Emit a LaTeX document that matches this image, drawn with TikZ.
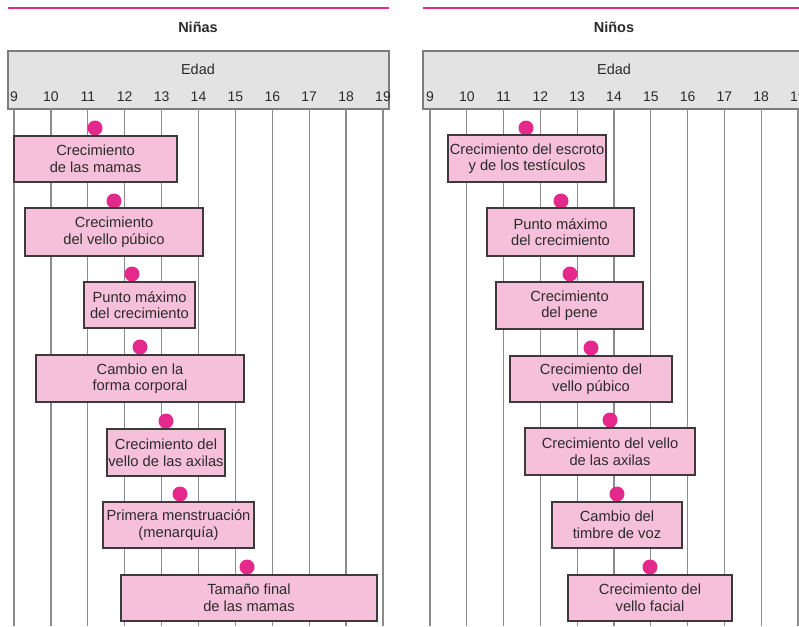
\documentclass[tikz,border=0pt]{standalone}
\usepackage{fontspec}
\setmainfont{Liberation Sans}
\usepackage{xcolor}
\usepackage{tikz}
\definecolor{chartMagenta}{HTML}{E4288C}
\definecolor{chartPink}{HTML}{F6BFDA}
\definecolor{chartBorder}{HTML}{3E3A3C}
\definecolor{chartGrid}{HTML}{8C8C8C}
\definecolor{chartHead}{HTML}{E3E3E3}
\definecolor{chartHeadLine}{HTML}{7C7C7C}
\definecolor{chartText}{HTML}{2B2B2B}
\usetikzlibrary{positioning}

\begin{document}
\begin{tikzpicture}[
  x=1pt, y=-1pt,
  font=\fontsize{14.7}{16.6}\selectfont, text=chartText,
  stage/.style={draw=chartBorder, line width=1.4pt, fill=chartPink, minimum height=46pt, inner sep=0pt, align=center},
  peak/.style={circle, fill=chartMagenta, minimum size=15pt, inner sep=0pt},
  headbox/.style={draw=chartHeadLine, line width=1.4pt, fill=chartHead},
  gridline/.style={chartGrid, line width=1.3pt},
  topline/.style={chartMagenta, line width=1.5pt},
  panel/.style={font=\fontsize{14.5}{16}\selectfont\bfseries},
  agelbl/.style={font=\fontsize{14.5}{16}\selectfont},
  tick/.style={font=\fontsize{14}{16}\selectfont}
]
\useasboundingbox (0,0) rectangle (799,626);

% Headers
\draw[topline] (8,8) -- (389,8);
\draw[topline] (423,8) -- (805,8);
\node[panel] (girls) at (198,27) {Niñas};
\node[panel] (boys) at (614,27) {Niños};
\draw[headbox] (8,51) rectangle (389,109);
\draw[headbox] (423,51) rectangle (810,109);
\node[agelbl] (ageL) at (198,69) {Edad};
\node[agelbl] (ageR) at (614,69) {Edad};

% Age scale and grid
\foreach \a [count=\k from 0] in {9,...,19} {
  \draw[gridline] (14+\k*36.9,109) -- (14+\k*36.9,626);
  \node[tick] (tl\a) at (14+\k*36.9,97) {\a};
  \draw[gridline] (430+\k*36.8,109) -- (430+\k*36.8,626);
  \node[tick] (tr\a) at (430+\k*36.8,97) {\a};
}

% Girls
\node[peak] (gDot1) at (95,128) {};
\node[peak] (gDot2) at (114,201) {};
\node[peak] (gDot3) at (132,274) {};
\node[peak] (gDot4) at (140,347) {};
\node[peak] (gDot5) at (166,421) {};
\node[peak] (gDot6) at (180,494) {};
\node[peak] (gDot7) at (247,567) {};
\node[stage, minimum width=163pt] (gBreast) at (95.5,159) {Crecimiento\\de las mamas};
\node[stage, minimum width=178pt, minimum height=48pt] (gPubic) at (114,232) {Crecimiento\\del vello púbico};
\node[stage, minimum width=111pt] (gPeak) at (139.5,305) {Punto máximo\\del crecimiento};
\node[stage, minimum width=208pt, minimum height=47pt] (gShape) at (140,378.5) {Cambio en la\\forma corporal};
\node[stage, minimum width=118pt, minimum height=47pt] (gAxil) at (166,452.5) {Crecimiento del\\vello de las axilas};
\node[stage, minimum width=151pt] (gMenar) at (178.5,525) {Primera menstruación\\(menarquía)};
\node[stage, minimum width=256pt] (gFinal) at (249,598) {Tamaño final\\de las mamas};

% Boys
\node[peak] (bDot1) at (526,128) {};
\node[peak] (bDot2) at (561,201) {};
\node[peak] (bDot3) at (570,274) {};
\node[peak] (bDot4) at (591,348) {};
\node[peak] (bDot5) at (610,420) {};
\node[peak] (bDot6) at (617,494) {};
\node[peak] (bDot7) at (650,567) {};
\node[stage, minimum width=158pt, minimum height=47pt] (bTestes) at (527,158.5) {Crecimiento del escroto\\y de los testículos};
\node[stage, minimum width=147pt, minimum height=48pt] (bPeak) at (560.5,232) {Punto máximo\\del crecimiento};
\node[stage, minimum width=147pt, minimum height=47pt] (bPenis) at (569.5,305.5) {Crecimiento\\del pene};
\node[stage, minimum width=162pt] (bPubic) at (591,379) {Crecimiento del\\vello púbico};
\node[stage, minimum width=170pt, minimum height=47pt] (bAxil) at (610,451.5) {Crecimiento del vello\\de las axilas};
\node[stage, minimum width=130pt] (bVoice) at (617,525) {Cambio del\\timbre de voz};
\node[stage, minimum width=164pt] (bFacial) at (650,598) {Crecimiento del\\vello facial};

\end{tikzpicture}
\end{document}
